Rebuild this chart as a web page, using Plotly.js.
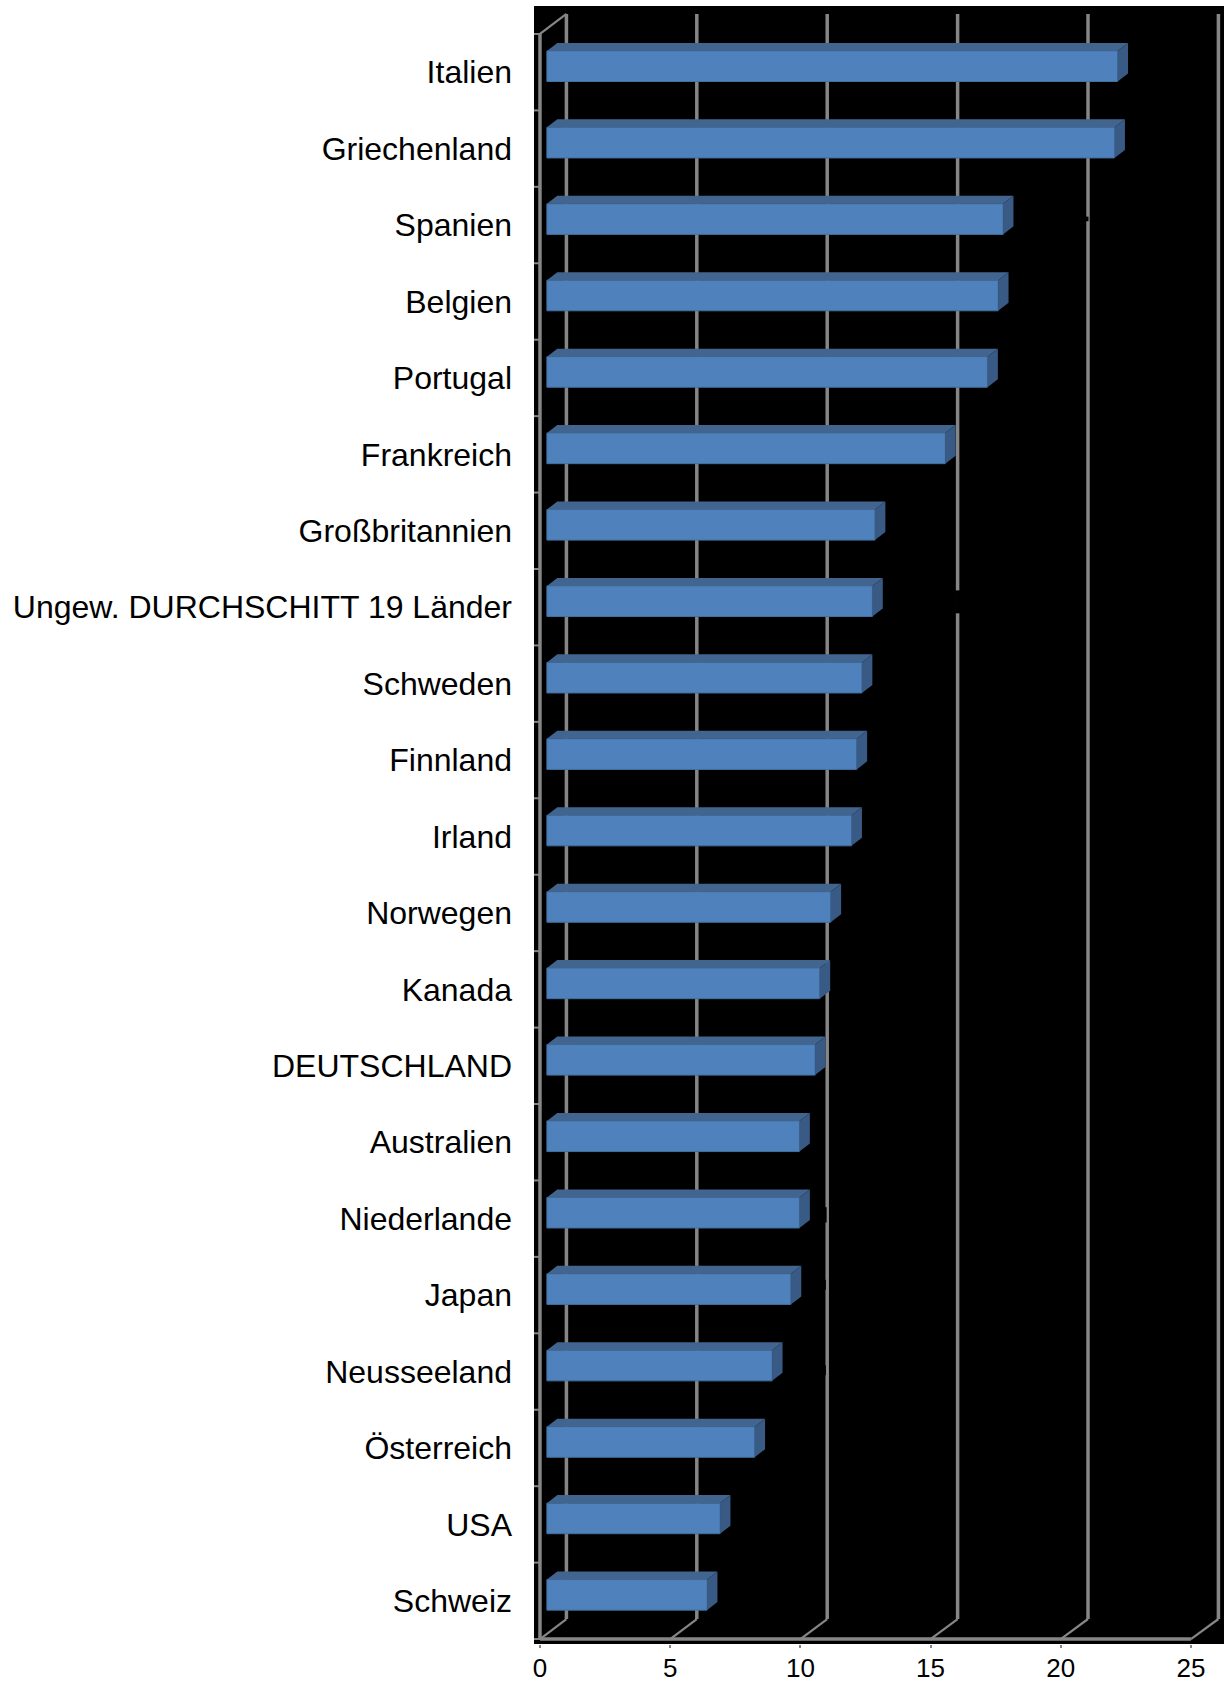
<!DOCTYPE html>
<html>
<head>
<meta charset="utf-8">
<script src="https://cdn.plot.ly/plotly-3.0.1.min.js"></script>
<style>html,body{margin:0;padding:0;background:#fff}#chart{width:1224px;height:1681px}</style>
</head>
<body>
<div id="chart"></div>
<script>
// Categories from top to bottom, with the value of each bar.
const countries = ["Italien","Griechenland","Spanien","Belgien","Portugal","Frankreich","Großbritannien",
  "Ungew. DURCHSCHITT 19 Länder","Schweden","Finnland","Irland","Norwegen","Kanada","DEUTSCHLAND",
  "Australien","Niederlande","Japan","Neusseeland","Österreich","USA","Schweiz"];
const values = [21.92,21.8,17.52,17.33,16.92,15.3,12.6,12.5,12.1,11.9,11.7,10.9,10.48,10.3,9.7,9.7,9.37,8.65,7.98,6.65,6.15];
const xTicks = [0,5,10,15,20,25];

// Pseudo-3D geometry, in axis units.
const wallDx = 1.015, wallDy = 0.262;   // depth of the chart box
const backStretch = 1.0016;             // back wall runs very slightly wider than the floor edge
const barStart = 0.265;                 // front face starts slightly off the wall
const barOffset = -0.278, barWidth = 0.4; // front face relative to the category centre
const barDx = 0.4, barDy = 0.105;       // depth of each bar
const yTop = -0.5, yBottom = countries.length - 0.5;

const grey = "#868686";
const backX = v => v * backStretch + wallDx;
const line = (x0, y0, x1, y1, width, color) => ({
  type: "line", layer: "below", xref: "x", yref: "y",
  x0, y0, x1, y1, line: {color: color || grey, width}
});

// Chart box: back-wall gridlines, floor diagonals, left wall and floor line.
const shapes = [];
xTicks.forEach(v => {
  shapes.push(line(backX(v), yTop - wallDy, backX(v), yBottom - wallDy, 3.5));
  shapes.push(line(v, yBottom, backX(v), yBottom - wallDy, 2.2));
});
shapes.push(line(0, yTop, backX(0), yTop - wallDy, 2.2));
shapes.push(line(0, yTop, 0, yBottom, 3.5));
shapes.push(line(0, yBottom, xTicks[xTicks.length - 1], yBottom, 3.5));

// Dark value captions sitting on the gridlines leave small breaks in them:
// gridline value, from, to, sideways shift, width.
const gridBreaks = [
  [20, 1.89, 1.95, -0.04, 3],
  [15, 6.78, 7.08, 0, 5],
  [10, 14.85, 15.05, -0.06, 2],
  [10, 15.8, 15.93, -0.08, 1.5],
  [10, 16.92, 17.05, -0.08, 1.5]
];
gridBreaks.forEach(b => shapes.push(line(backX(b[0]) + b[3], b[1], backX(b[0]) + b[3], b[2], b[4], "#000")));

// Top and side faces of each bar, as closed polygons.
const topX = [], topY = [], sideX = [], sideY = [];
values.forEach((v, i) => {
  const t = i + barOffset, b = t + barWidth, e = barStart + v;
  topX.push(barStart, e, e + barDx, barStart + barDx, barStart, null);
  topY.push(t, t, t - barDy, t - barDy, t, null);
  sideX.push(e, e + barDx, e + barDx, e, e, null);
  sideY.push(t, t - barDy, b - barDy, b, t, null);
});

// Tick marks between the categories, crossing the edge of the black panel.
const markX = [], markY = [];
for (let i = 0; i <= countries.length; i++) {
  markX.push(-0.38, 0, null);
  markY.push(i - 0.5, i - 0.5, null);
}

const traces = [
  {type: "bar", orientation: "h", y: countries.map((_, i) => i), x: values, base: barStart,
   width: barWidth, offset: barOffset,
   marker: {color: "#4F81BD", line: {color: "#41719F", width: 1}}, hoverinfo: "skip"},
  {type: "scatter", mode: "lines", x: topX, y: topY, fill: "toself", fillcolor: "#41658F",
   line: {width: 0}, hoverinfo: "skip"},
  {type: "scatter", mode: "lines", x: sideX, y: sideY, fill: "toself", fillcolor: "#385A85",
   line: {width: 0}, hoverinfo: "skip"},
  {type: "scatter", mode: "lines", x: markX, y: markY, cliponaxis: false,
   line: {color: grey, width: 2}, hoverinfo: "skip"}
];

const layout = {
  width: 1224, height: 1681,
  margin: {l: 534, r: 0, t: 6, b: 37, pad: 0},
  paper_bgcolor: "#fff", plot_bgcolor: "#000",
  showlegend: false, barmode: "overlay",
  font: {family: '"Liberation Sans", Arial, sans-serif', color: "#000"},
  xaxis: {
    range: [-0.23, 26.27], tickmode: "array", tickvals: xTicks, ticktext: xTicks.map(String),
    showgrid: false, zeroline: false, showline: false,
    ticks: "outside", ticklen: 3, tickwidth: 2, tickcolor: grey,
    tickfont: {size: 26}, ticklabelstandoff: -2
  },
  yaxis: {
    range: [20.565, -0.866], tickmode: "array", tickvals: countries.map((_, i) => i), ticktext: countries,
    showgrid: false, zeroline: false, showline: false,
    ticks: "", tickfont: {size: 32}, ticklabelstandoff: 21
  },
  shapes
};

Plotly.newPlot("chart", traces, layout, {displayModeBar: false, staticPlot: true});
</script>
</body>
</html>
